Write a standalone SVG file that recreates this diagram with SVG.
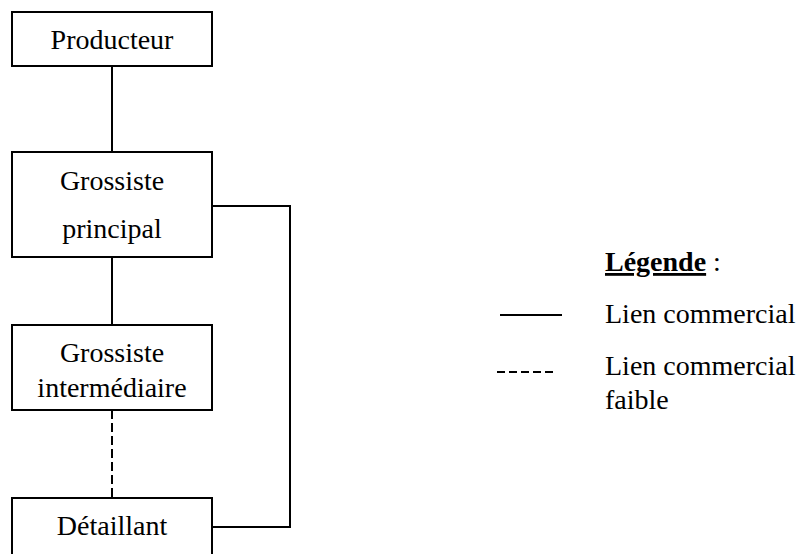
<svg xmlns="http://www.w3.org/2000/svg" width="804" height="554" viewBox="0 0 804 554">
<style>
.box{fill:#fff;stroke:#000;stroke-width:2}
.t{font-family:"Liberation Serif","Times New Roman",serif;font-size:28px;fill:#000}
.c{text-anchor:middle}
.ln{fill:none;stroke:#000;stroke-width:2}
.dash{stroke-dasharray:9,4}
</style>
<rect width="804" height="554" fill="#fff"/>
<g id="connectors">
<line class="ln" x1="112" y1="66" x2="112" y2="152"/>
<line class="ln" x1="112" y1="257" x2="112" y2="325"/>
<line class="ln dash" x1="112" y1="410" x2="112" y2="498"/>
<polyline class="ln" points="212,206 290,206 290,527 212,527"/>
</g>
<g id="producteur">
<rect class="box" x="12" y="12" width="200" height="54"/>
<text class="t c" x="112" y="49">Producteur</text>
</g>
<g id="grossiste-principal">
<rect class="box" x="12" y="152" width="200" height="105"/>
<text class="t c" x="112" y="190">Grossiste</text>
<text class="t c" x="112" y="238">principal</text>
</g>
<g id="grossiste-intermediaire">
<rect class="box" x="12" y="325" width="200" height="85"/>
<text class="t c" x="112" y="362">Grossiste</text>
<text class="t c" x="112" y="397">intermédiaire</text>
</g>
<g id="detaillant">
<rect class="box" x="12" y="498" width="200" height="80"/>
<text class="t c" x="112" y="535">Détaillant</text>
</g>
<g id="legende">
<text class="t" x="605" y="271"><tspan font-weight="bold" text-decoration="underline">Légende</tspan> :</text>
<line class="ln" x1="500" y1="315" x2="562" y2="315"/>
<text class="t" x="605" y="323">Lien commercial</text>
<line class="ln" x1="497" y1="372" x2="556" y2="372" stroke-dasharray="8,4" stroke-width="1.5"/>
<text class="t" x="605" y="375">Lien commercial</text>
<text class="t" x="605" y="409">faible</text>
</g>
</svg>
